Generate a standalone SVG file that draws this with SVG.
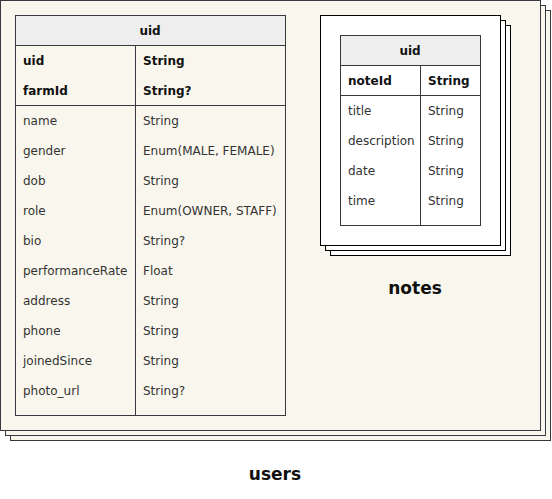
<svg xmlns="http://www.w3.org/2000/svg" width="552" height="499" viewBox="0 0 552 499">
<style>
.fr{fill:#f9f7ed;stroke:#36393d;stroke-width:1}
.nf{fill:#ffffff;stroke:#000000;stroke-width:1}
.tb{fill:none;stroke:#36393d;stroke-width:1}
.hd{fill:#eeeeee;stroke:#36393d;stroke-width:1}
.ln{stroke:#36393d;stroke-width:1;fill:none}
text{font-family:"DejaVu Sans",Verdana,sans-serif;font-size:12px;fill:#333333}
.b{font-weight:bold;fill:#111111}
.c{text-anchor:middle}
.t{font-family:"DejaVu Sans",Verdana,sans-serif;font-size:17px;font-weight:bold;fill:#111111;text-anchor:middle}
</style>
<g id="users">
<rect class="fr" x="10.5" y="10.5" width="540" height="430"/>
<rect class="fr" x="5.5" y="5.5" width="540" height="430"/>
<rect class="fr" x="0.5" y="0.5" width="540" height="430"/>
<text class="t" x="275" y="480">users</text>
</g>
<g id="users-table">
<rect class="hd" x="15.5" y="15.5" width="270" height="30"/>
<rect class="tb" x="15.5" y="45.5" width="270" height="370"/>
<line class="ln" x1="135.5" y1="45.5" x2="135.5" y2="415.5"/>
<line class="ln" x1="15.5" y1="105.5" x2="285.5" y2="105.5"/>
<text class="b c" x="150" y="35">uid</text>
<text class="b" x="23" y="65">uid</text><text class="b" x="143" y="65">String</text>
<text class="b" x="23" y="95">farmId</text><text class="b" x="143" y="95">String?</text>
<text x="23" y="125">name</text><text x="143" y="125">String</text>
<text x="23" y="155">gender</text><text x="143" y="155">Enum(MALE, FEMALE)</text>
<text x="23" y="185">dob</text><text x="143" y="185">String</text>
<text x="23" y="215">role</text><text x="143" y="215">Enum(OWNER, STAFF)</text>
<text x="23" y="245">bio</text><text x="143" y="245">String?</text>
<text x="23" y="275">performanceRate</text><text x="143" y="275">Float</text>
<text x="23" y="305">address</text><text x="143" y="305">String</text>
<text x="23" y="335">phone</text><text x="143" y="335">String</text>
<text x="23" y="365">joinedSince</text><text x="143" y="365">String</text>
<text x="23" y="395">photo_url</text><text x="143" y="395">String?</text>
</g>
<g id="notes">
<rect class="nf" x="330.5" y="25.5" width="180" height="230"/>
<rect class="nf" x="325.5" y="20.5" width="180" height="230"/>
<rect class="nf" x="320.5" y="15.5" width="180" height="230"/>
<text class="t" x="415" y="294">notes</text>
</g>
<g id="notes-table">
<rect class="hd" x="340.5" y="35.5" width="140" height="30"/>
<rect class="tb" x="340.5" y="65.5" width="140" height="160"/>
<line class="ln" x1="420.5" y1="65.5" x2="420.5" y2="225.5"/>
<line class="ln" x1="340.5" y1="95.5" x2="480.5" y2="95.5"/>
<text class="b c" x="410" y="55">uid</text>
<text class="b" x="348" y="85">noteId</text><text class="b" x="428" y="85">String</text>
<text x="348" y="115">title</text><text x="428" y="115">String</text>
<text x="348" y="145">description</text><text x="428" y="145">String</text>
<text x="348" y="175">date</text><text x="428" y="175">String</text>
<text x="348" y="205">time</text><text x="428" y="205">String</text>
</g>
<g id="connectors"></g>
</svg>
